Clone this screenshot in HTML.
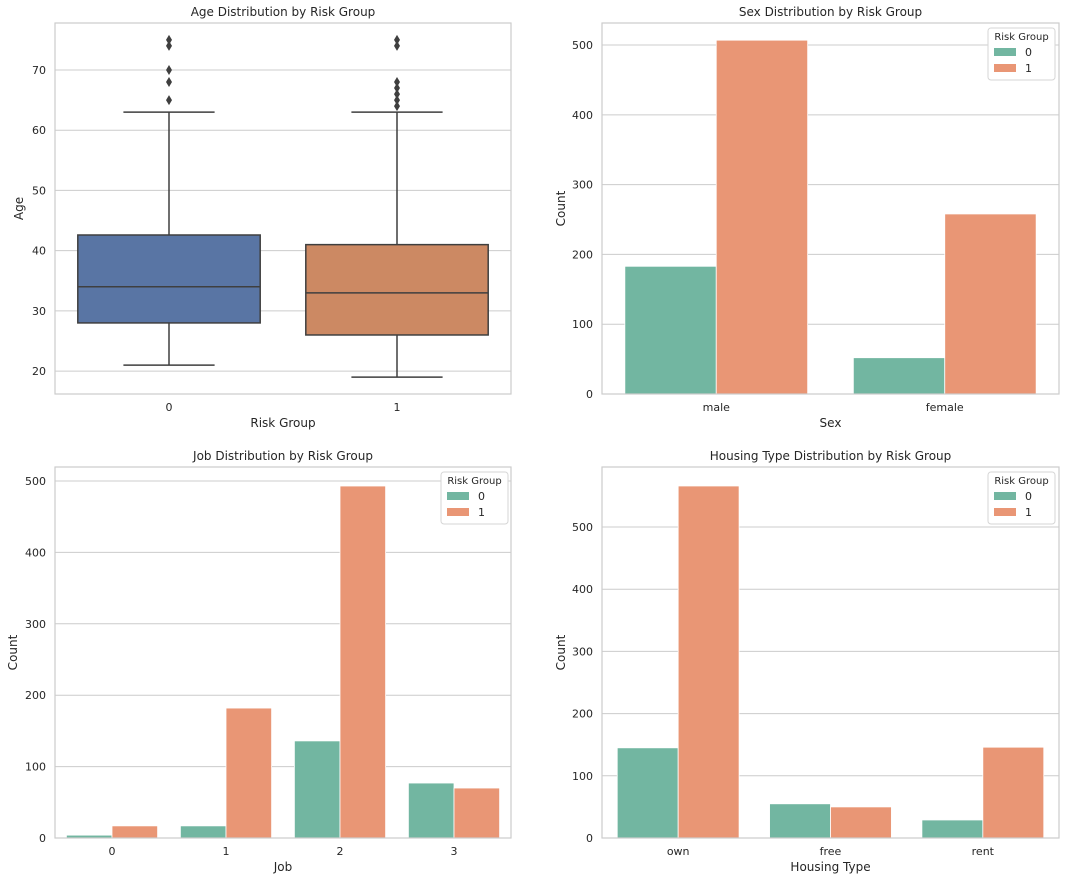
<!DOCTYPE html>
<html><head><meta charset="utf-8"><style>
body{margin:0;background:#fff;font-family:"DejaVu Sans","Liberation Sans",sans-serif}
svg text{fill:#262626}
</style></head><body>
<svg id="s" width="1066" height="882" xmlns="http://www.w3.org/2000/svg" font-family="DejaVu Sans, Liberation Sans, sans-serif"></svg>
<script>
// Age box stats [whisLo, q1, median, q3, whisHi]
const boxGroups = ['0','1'];
const boxStats = [[21,28,34,42.6,63],[19,26,33,41,63]];
const boxOutliers = [[65,68,70,74,75],[64,65,66,67,68,74,75]];
const ageTicks = [20,30,40,50,60,70];
// Sex
const sexCats = ['male','female'];
const sex0 = [183,52];
const sex1 = [507,258];
const sexTicks = [0,100,200,300,400,500];
// Job
const jobCats = ['0','1','2','3'];
const job0 = [4,17,136,77];
const job1 = [17,182,493,70];
const jobTicks = [0,100,200,300,400,500];
// Housing
const houseCats = ['own','free','rent'];
const house0 = [145,55,29];
const house1 = [566,50,146];
const houseTicks = [0,100,200,300,400,500];

const NS='http://www.w3.org/2000/svg';
const svg=document.getElementById('s');
function mk(tag,attrs,parent,text){const e=document.createElementNS(NS,tag);for(const k in attrs)e.setAttribute(k,attrs[k]);if(text!==undefined)e.textContent=text;(parent||svg).appendChild(e);return e;}

function panel(p){
  const g=mk('g',{});
  
  
  const y=v=>p.y1-(v-p.vmin)/(p.vmax-p.vmin)*(p.y1-p.y0);
  p.ticks.forEach(t=>{
    const yy=y(t);
    const l=mk('line',{x1:p.x0,x2:p.x1,y1:yy,y2:yy,stroke:'#cccccc','stroke-width':1},g);
    
    const tx=mk('text',{x:p.x0-9,y:yy+4,'text-anchor':'end','font-size':11},g,String(t));
    
  });
  const n=p.cats.length, cw=(p.x1-p.x0)/n;
  p.cats.forEach((c,i)=>{
    const tx=mk('text',{x:p.x0+cw*(i+.5),y:p.y1+17,'text-anchor':'middle','font-size':11},g,c);
    
  });
  p.draw(g,y,cw);
  const fr=mk('rect',{x:p.x0,y:p.y0,width:p.x1-p.x0,height:p.y1-p.y0,fill:'none',stroke:'#cccccc','stroke-width':1.2},g);
  
  let t=mk('text',{x:(p.x0+p.x1)/2,y:p.y0-7,'text-anchor':'middle','font-size':12},g,p.title);
  
  t=mk('text',{x:(p.x0+p.x1)/2,y:p.y1+33,'text-anchor':'middle','font-size':12},g,p.xlabel);
  
  t=mk('text',{x:p.ylx,y:(p.y0+p.y1)/2,'text-anchor':'middle','font-size':12,transform:`rotate(-90 ${p.ylx} ${(p.y0+p.y1)/2})`},g,p.ylabel);
  
  if(p.legend){
    const lx=p.legend[0],ly=p.legend[1];
    const lg=mk('g',{},g);
    
    mk('rect',{x:lx,y:ly,width:67,height:52,rx:3,fill:'#fff',stroke:'#d6d6d6'},lg);
    mk('text',{x:lx+33.5,y:ly+12,'text-anchor':'middle','font-size':10},lg,'Risk Group');
    [['0','#72b6a1'],['1','#e99675']].forEach((e,k)=>{
      const eg=mk('g',{},lg);
      
      mk('rect',{x:lx+6,y:ly+20+k*16,width:22,height:8,fill:e[1]},eg);
      mk('text',{x:lx+37,y:ly+28+k*16,'font-size':11},eg,e[0]);
    });
  }
}
function barDraw(p,v0,v1){
  return (g,y,cw)=>{
    const bw=cw*0.4;
    p.cats.forEach((c,i)=>{
      const cx=p.x0+cw*(i+.5);
      [[v0,'#72b6a1',-1,'0'],[v1,'#e99675',0,'1']].forEach(s=>{
        const v=s[0][i];
        const r=mk('rect',{x:cx+s[2]*bw,y:y(v),width:bw,height:y(0)-y(v),fill:s[1],stroke:'#fff','stroke-width':0.8},g);
        
        
      });
    });
  };
}
// Panel 1
const p1={name:'age-boxplot',x0:55,x1:511,y0:23,y1:394,vmin:16.2,vmax:77.8,ticks:ageTicks,cats:boxGroups,title:'Age Distribution by Risk Group',xlabel:'Risk Group',ylabel:'Age',ylx:23};
p1.draw=(g,y,cw)=>{
  const cols=['#5975a4','#cc8963'];
  boxGroups.forEach((c,i)=>{
    const s=boxStats[i],cx=p1.x0+cw*(i+.5),bw=cw*0.8;
    const bg=mk('g',{},g);
    
    mk('line',{x1:cx,x2:cx,y1:y(s[0]),y2:y(s[1]),stroke:'#3f3f3f','stroke-width':1.5},bg);
    mk('line',{x1:cx,x2:cx,y1:y(s[3]),y2:y(s[4]),stroke:'#3f3f3f','stroke-width':1.5},bg);
    mk('line',{x1:cx-bw/4,x2:cx+bw/4,y1:y(s[0]),y2:y(s[0]),stroke:'#3f3f3f','stroke-width':1.5},bg);
    mk('line',{x1:cx-bw/4,x2:cx+bw/4,y1:y(s[4]),y2:y(s[4]),stroke:'#3f3f3f','stroke-width':1.5},bg);
    mk('rect',{x:cx-bw/2,y:y(s[3]),width:bw,height:y(s[1])-y(s[3]),fill:cols[i],stroke:'#3f3f3f','stroke-width':1.5},bg);
    mk('line',{x1:cx-bw/2,x2:cx+bw/2,y1:y(s[2]),y2:y(s[2]),stroke:'#3f3f3f','stroke-width':1.5},bg);
    boxOutliers[i].forEach(o=>{
      const yy=y(o);
      const d=mk('path',{d:`M${cx} ${yy-5}L${cx+3} ${yy}L${cx} ${yy+5}L${cx-3} ${yy}Z`,fill:'#3f3f3f'},bg);
      
    });
  });
};
panel(p1);
const p2={name:'sex-chart',x0:602,x1:1059,y0:23,y1:394,vmin:0,vmax:531.6,ticks:sexTicks,cats:sexCats,title:'Sex Distribution by Risk Group',xlabel:'Sex',ylabel:'Count',ylx:565,legend:[988,28]};
p2.draw=barDraw(p2,sex0,sex1);panel(p2);
const p3={name:'job-chart',x0:55,x1:511,y0:467,y1:838,vmin:0,vmax:519.6,ticks:jobTicks,cats:jobCats,title:'Job Distribution by Risk Group',xlabel:'Job',ylabel:'Count',ylx:17,legend:[441,472]};
p3.draw=barDraw(p3,job0,job1);panel(p3);
const p4={name:'housing-chart',x0:602,x1:1059,y0:467,y1:838,vmin:0,vmax:596.5,ticks:houseTicks,cats:houseCats,title:'Housing Type Distribution by Risk Group',xlabel:'Housing Type',ylabel:'Count',ylx:565,legend:[988,472]};
p4.draw=barDraw(p4,house0,house1);panel(p4);
</script>
</body></html>
